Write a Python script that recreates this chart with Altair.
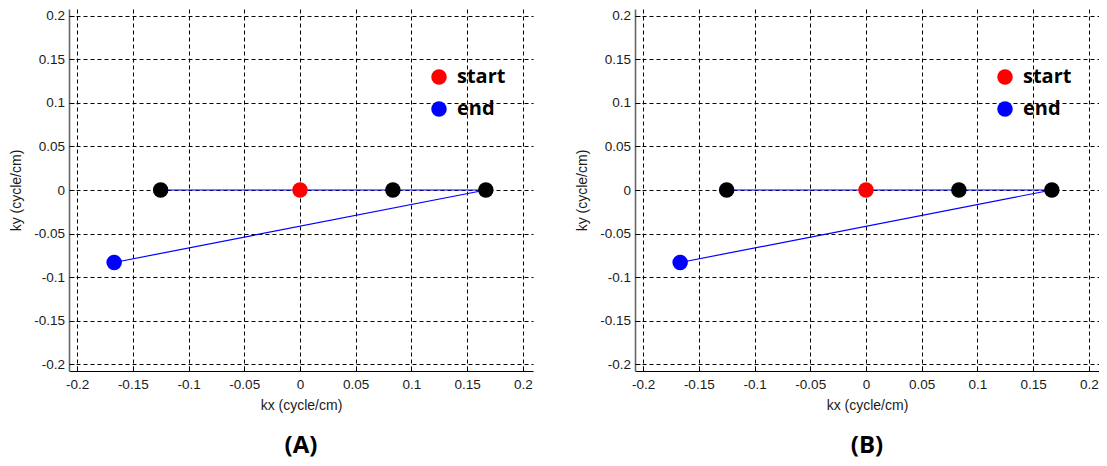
import altair as alt
import pandas as pd

# k-space trajectory points (cycle/cm)
KX = [-0.125, 0.0, 0.0833, 0.1667, -0.1667]
KY = [0.0, 0.0, 0.0, 0.0, -0.0833]
KIND = ["mid", "start", "mid", "mid", "end"]
ORDER = [0, 1, 2, 3, 4]

TICKS = [-0.2, -0.15, -0.1, -0.05, 0, 0.05, 0.1, 0.15, 0.2]
KIND_DOMAIN = ["start", "mid", "end"]
KIND_COLORS = ["#ff0000", "#000000", "#0000ff"]
LEGEND_VALUES = ["start", "end"]
PANELS = ["(A)", "(B)"]
X_DOMAIN = [-0.2072, 0.209]
Y_DOMAIN = [-0.208, 0.208]

df = pd.DataFrame({"kx": KX, "ky": KY, "kind": KIND, "ord": ORDER})

LABEL_FONT = "Liberation Sans"
TXT = "#1a1a1a"


def panel(label):
    base = alt.Chart(df)
    xs = alt.Scale(domain=X_DOMAIN, nice=False, zero=False)
    ys = alt.Scale(domain=Y_DOMAIN, nice=False, zero=False)
    x_main = alt.Axis(
        values=TICKS, labelExpr="toString(datum.value)", grid=True,
        gridColor="#000000", gridDash=[4, 3], gridWidth=1, gridOpacity=1,
        ticks=False, domainColor="#000000", domainWidth=1,
        labelFont=LABEL_FONT, labelFontSize=13.5, labelColor=TXT,
        labelPadding=6, labelFlush=False,
        title="kx (cycle/cm)", titleFont=LABEL_FONT, titleFontSize=14,
        titleFontWeight="normal", titleColor=TXT, titlePadding=8,
    )
    y_main = alt.Axis(
        values=TICKS, labelExpr="toString(datum.value)", grid=True,
        gridColor="#000000", gridDash=[4, 3], gridWidth=1, gridOpacity=1,
        ticks=False, domainColor="#666666", domainWidth=1.6,
        labelFont=LABEL_FONT, labelFontSize=13.5, labelColor=TXT,
        labelPadding=4.5, labelFlush=False,
        title="ky (cycle/cm)", titleFont=LABEL_FONT, titleFontSize=14,
        titleFontWeight="normal", titleColor=TXT, titlePadding=10,
    )
    line = base.mark_line(color="#0000ff", strokeWidth=1.2).encode(
        x=alt.X("kx:Q", scale=xs, axis=x_main),
        y=alt.Y("ky:Q", scale=ys, axis=y_main),
        order=alt.Order("ord:Q"),
    )
    pts = base.mark_circle(size=240, opacity=1).encode(
        x=alt.X("kx:Q", scale=xs, axis=None),
        y=alt.Y("ky:Q", scale=ys, axis=None),
        color=alt.Color(
            "kind:N",
            scale=alt.Scale(domain=KIND_DOMAIN, range=KIND_COLORS),
            legend=alt.Legend(
                values=LEGEND_VALUES, title=None, orient="none",
                legendX=360, legendY=58, padding=0,
                labelFont="Open Sans", labelFontSize=20, labelFontWeight="bold",
                labelColor="#000000", labelOffset=8, rowPadding=12,
                symbolType="circle", symbolSize=240, symbolStrokeWidth=0,
                symbolOpacity=1,
            ),
        ),
    )
    tk = base.mark_point(opacity=0).encode(
        x=alt.X("kx:Q", scale=xs, axis=alt.Axis(
            orient="bottom", offset=-5, values=TICKS, labels=False, grid=False,
            domain=False, ticks=True, tickSize=5, tickColor="#000000",
            tickWidth=1, title=None)),
        y=alt.Y("ky:Q", scale=ys, axis=alt.Axis(
            orient="left", offset=-5, values=TICKS, labels=False, grid=False,
            domain=False, ticks=True, tickSize=5, tickColor="#000000",
            tickWidth=1, title=None)),
    )
    return alt.layer(line, pts, tk).resolve_axis(
        x="independent", y="independent"
    ).properties(
        width=464, height=362,
        title=alt.Title(label, orient="bottom", frame="group", anchor="middle",
                        offset=21, font="Open Sans", fontSize=24,
                        fontWeight="bold", color="#000000"),
    )


chart = alt.hconcat(
    panel(PANELS[0]), panel(PANELS[1]), spacing=102, bounds="flush"
).resolve_scale(color="independent").resolve_legend(
    color="independent"
).properties(
    padding={"top": 0, "left": 1, "right": 0, "bottom": 0}
).configure_view(strokeWidth=0)

chart.save("out.html", embed_options={"renderer": "svg", "actions": False})
